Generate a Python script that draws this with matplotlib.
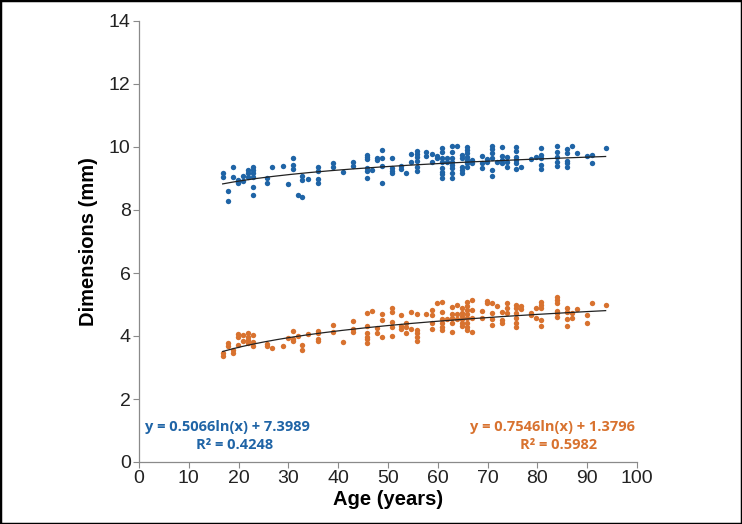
import matplotlib
matplotlib.use("Agg")
import matplotlib.pyplot as plt
import numpy as np
from matplotlib.patches import Rectangle

# ---- data ----
blue_age = [16.8, 16.8, 17.8, 17.8, 18.8, 18.8, 19.8, 19.8, 19.8, 20.8, 20.8,
            21.8, 21.8, 21.8, 22.8, 22.8, 22.8, 22.8, 22.8, 22.8, 25.8, 25.8,
            26.8, 28.9, 29.9, 30.9, 30.9, 30.9, 31.9, 32.8, 32.8, 32.8, 33.9,
            35.9, 35.9, 35.9, 35.9, 38.9, 38.9, 40.9, 42.9, 42.9,
            45.8, 45.8, 45.8, 45.8, 45.8, 45.8, 46.8, 47.8, 47.8,
            48.8, 48.8, 48.8, 48.8, 50.8, 50.8, 50.8, 50.8,
            52.7, 52.7, 53.7, 54.7, 54.7, 55.8, 55.8, 55.8, 55.8, 55.8, 55.8,
            57.7, 57.7, 58.8, 58.8, 59.8, 59.8,
            60.8, 60.8, 60.8, 60.8, 60.8, 60.8, 60.8, 60.8, 61.8, 61.8,
            62.8, 62.8, 62.8, 62.8, 62.8, 62.8, 62.8, 62.8, 63.8,
            64.8, 64.8, 64.8, 64.8, 64.8,
            65.8, 65.8, 65.8, 65.8, 65.8, 65.8, 65.8, 66.8, 66.8,
            68.8, 68.8, 68.8, 69.8, 69.8,
            70.8, 70.8, 70.8, 70.8, 70.8, 70.8, 71.8,
            72.8, 72.8, 72.8, 72.8, 73.8, 73.8, 73.8,
            75.8, 75.8, 75.8, 75.8, 75.8, 75.8, 76.8, 78.8, 79.8,
            80.8, 80.8, 80.8, 80.8, 80.8,
            83.9, 83.9, 83.9, 83.9, 83.9,
            85.9, 85.9, 85.9, 85.9, 85.9, 86.9, 87.9, 89.9, 90.9, 90.9, 93.7]
blue_dim = [9.18, 9.06, 8.60, 8.28, 9.38, 9.06, 8.95, 8.87, 8.90, 9.08, 8.92,
            9.27, 9.16, 9.04, 9.38, 9.27, 9.16, 9.06, 8.72, 8.49, 9.03, 8.85,
            9.35, 9.41, 8.82, 9.64, 9.43, 9.30, 8.49, 9.08, 8.95, 8.42, 8.97,
            9.35, 9.24, 8.97, 8.87, 9.48, 9.35, 9.21, 9.53, 9.40,
            9.75, 9.67, 9.61, 9.32, 9.25, 9.03, 9.27, 9.64, 9.59,
            9.90, 9.64, 9.40, 8.85, 9.64, 9.32, 9.25, 9.18,
            9.40, 9.29, 9.18, 9.78, 9.51, 9.88, 9.78, 9.67, 9.57, 9.38, 9.25,
            9.83, 9.72, 9.78, 9.51, 9.72, 9.64,
            9.96, 9.85, 9.64, 9.53, 9.32, 9.21, 9.13, 9.03, 9.64, 9.53,
            10.03, 9.85, 9.64, 9.53, 9.43, 9.32, 9.18, 9.03, 10.03,
            9.75, 9.64, 9.38, 9.27, 9.16,
            10.01, 9.90, 9.80, 9.69, 9.59, 9.48, 9.38, 9.59, 9.48,
            9.71, 9.48, 9.32, 9.62, 9.51,
            10.03, 9.93, 9.80, 9.64, 9.27, 9.08, 9.51,
            9.99, 9.71, 9.59, 9.48, 9.67, 9.53, 9.38,
            9.99, 9.88, 9.69, 9.59, 9.48, 9.29, 9.38, 9.62, 9.67,
            9.96, 9.75, 9.64, 9.43, 9.29,
            10.03, 9.85, 9.69, 9.53, 9.41,
            9.93, 9.82, 9.57, 9.48, 9.38, 10.04, 9.80, 9.71, 9.76, 9.49, 9.97]

orange_age = [16.8, 16.8, 17.8, 17.8, 18.8, 18.8, 19.8, 19.8, 19.8, 20.8, 20.8,
              21.8, 21.8, 21.8, 21.8, 22.8, 22.8, 22.8, 25.8, 25.8, 26.8, 28.9,
              29.9, 30.9, 30.9, 30.9, 31.9, 32.8, 32.8, 33.9,
              35.9, 35.9, 35.9, 35.9, 38.9, 38.9, 40.9, 42.9, 42.9, 42.9,
              45.8, 45.8, 45.8, 45.8, 45.8, 45.8, 46.8, 47.8, 47.8,
              48.8, 48.8, 48.8, 50.8, 50.8, 50.8, 50.8, 50.8,
              52.7, 52.7, 52.7, 53.7, 53.7, 53.7, 54.7, 54.7,
              55.8, 55.8, 55.8, 55.8, 55.8, 57.7, 58.8, 58.8, 58.8, 58.8, 59.8,
              60.8, 60.8, 60.8, 60.8, 60.8, 60.8, 61.8,
              62.8, 62.8, 62.8, 62.8, 62.8, 63.8, 63.8, 63.8,
              64.8, 64.8, 64.8, 64.8, 64.8, 64.8,
              65.8, 65.8, 65.8, 65.8, 65.8, 65.8, 65.8, 65.8,
              66.8, 66.8, 66.8, 66.8, 68.8, 68.8, 69.8, 69.8,
              70.8, 70.8, 70.8, 70.8, 71.8, 72.8, 72.8, 72.8, 73.8, 73.8, 73.8,
              75.8, 75.8, 75.8, 75.8, 75.8, 75.8, 76.8, 76.8, 78.8, 78.8,
              79.8, 79.8, 80.8, 80.8, 80.8, 80.8, 80.8,
              83.9, 83.9, 83.9, 83.9, 83.9, 83.9, 85.9, 85.9, 85.9, 85.9,
              86.9, 86.9, 87.9, 89.9, 89.9, 90.9, 93.7]
orange_dim = [3.45, 3.37, 3.77, 3.68, 3.56, 3.47, 4.06, 3.96, 3.71, 4.03, 3.85,
              4.09, 3.98, 3.87, 3.77, 4.03, 3.82, 3.68, 3.74, 3.68, 3.61, 3.68,
              3.95, 4.16, 3.89, 3.85, 4.00, 3.71, 3.56, 4.05,
              4.17, 4.09, 3.89, 3.84, 4.35, 4.14, 3.80, 4.48, 4.21, 4.14,
              4.74, 4.32, 4.09, 3.98, 3.89, 3.79, 4.79, 4.24, 4.09,
              4.69, 4.51, 3.96, 4.88, 4.77, 4.45, 4.30, 4.00,
              4.67, 4.32, 4.21, 4.42, 4.30, 4.09, 4.75, 4.21,
              4.69, 4.19, 4.09, 3.96, 3.85, 4.69, 4.83, 4.67, 4.42, 4.21, 5.06,
              5.09, 4.75, 4.53, 4.42, 4.30, 4.19, 4.53,
              4.93, 4.69, 4.58, 4.42, 4.14, 4.98, 4.69, 4.53,
              4.90, 4.72, 4.63, 4.53, 4.42, 4.32,
              5.09, 4.95, 4.83, 4.69, 4.56, 4.42, 4.30, 4.19,
              5.14, 4.83, 4.58, 4.14, 4.80, 4.56, 5.11, 5.06,
              5.04, 4.74, 4.53, 4.35, 4.95, 4.75, 4.51, 4.42, 5.06, 4.88, 4.72,
              4.98, 4.88, 4.72, 4.58, 4.42, 4.30, 4.95, 4.85, 4.72, 4.67,
              4.88, 4.58, 5.09, 4.98, 4.88, 4.51, 4.32,
              5.23, 5.14, 5.04, 4.79, 4.72, 4.59, 4.88, 4.77, 4.53, 4.32,
              4.72, 4.56, 4.85, 4.67, 4.42, 5.06, 4.98]

blue_fit = (0.5066, 7.3989)
orange_fit = (0.7546, 1.3796)
blue_eq = ["y = 0.5066ln(x) + 7.3989", "R² = 0.4248"]
orange_eq = ["y = 0.7546ln(x) + 1.3796", "R² = 0.5982"]
x_ticks = [0, 10, 20, 30, 40, 50, 60, 70, 80, 90, 100]
y_ticks = [0, 2, 4, 6, 8, 10, 12, 14]

BLUE = "#1f64a6"
ORANGE = "#d8722f"

plt.rcParams['font.family'] = ['Liberation Sans', 'DejaVu Sans']

fig = plt.figure(figsize=(7.42, 5.24), dpi=100)
ax = fig.add_axes([139/742, (524-462)/524, (637-139)/742, (462-21)/524])

ax.scatter(blue_age, blue_dim, s=15, color=BLUE, linewidths=0, zorder=3)
ax.scatter(orange_age, orange_dim, s=15, color=ORANGE, linewidths=0, zorder=3)

for ages, (a, b) in ((blue_age, blue_fit), (orange_age, orange_fit)):
    xs = np.linspace(min(ages), max(ages), 200)
    ax.plot(xs, a*np.log(xs) + b, color="#222222", lw=0.9, zorder=4)

ax.set_xlim(0, 100)
ax.set_ylim(0, 14)
ax.set_xticks(x_ticks)
ax.set_yticks(y_ticks)
ax.tick_params(labelsize=14, colors="#222222", length=4, width=0.8,
               color="#8a8a8a", direction="out", pad=2)
for s in ("top", "right"):
    ax.spines[s].set_visible(False)
for s in ("left", "bottom"):
    ax.spines[s].set_color("#8a8a8a")
    ax.spines[s].set_linewidth(0.9)

ax.set_xlabel("Age (years)", fontsize=14.5, fontweight="bold", labelpad=2)
ax.set_ylabel("Dimensions (mm)", fontsize=14.5, fontweight="bold", labelpad=8)

eqfont = dict(fontsize=10.5, fontweight="bold", family=["Open Sans", "DejaVu Sans"],
              ha="center", va="center")
ax.text(17.8, 1.11, blue_eq[0], color=BLUE, **eqfont)
ax.text(19.2, 0.54, blue_eq[1], color=BLUE, **eqfont)
ax.text(83.0, 1.11, orange_eq[0], color=ORANGE, **eqfont)
ax.text(84.2, 0.54, orange_eq[1], color=ORANGE, **eqfont)

fig.patches.append(Rectangle((0, 0), 1, 1, transform=fig.transFigure,
                             fill=False, edgecolor="black", lw=2.5))

fig.savefig("out.png", dpi=100)
